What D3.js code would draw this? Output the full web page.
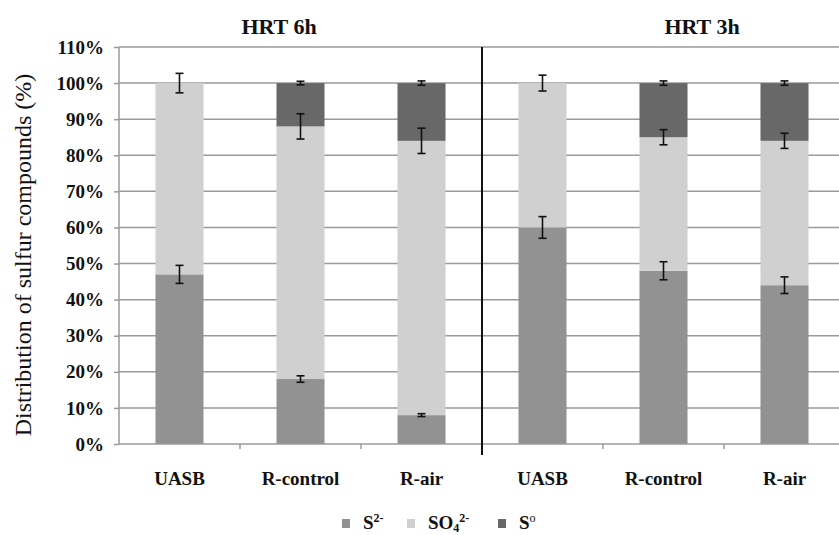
<!DOCTYPE html>
<meta charset="utf-8">
<script src="https://d3js.org/d3.v7.min.js"></script>
<style>
  body { margin: 0; background: #fff; }
</style>
<div id="chart"></div>
<script>

// categories, two HRT groups of three reactors
var categories = ["UASB", "R-control", "R-air", "UASB", "R-control", "R-air"];
var groups = ["HRT 6h", "HRT 3h"];
var keys = ["6h-UASB", "6h-R-control", "6h-R-air", "3h-UASB", "3h-R-control", "3h-R-air"];

// percent of sulfur compounds
var sulfide   = [47, 18, 8, 60, 48, 44];
var sulfate   = [53, 70, 76, 40, 37, 40];
var elemental = [0, 12, 16, 0, 15, 16];

// error bars (+/-) at the top of each segment
var sulfideErr   = [2.5, 0.9, 0.4, 3.0, 2.5, 2.3];
var sulfateErr   = [2.7, 3.5, 3.5, 2.2, 2.1, 2.1];
var elementalErr = [0, 0.5, 0.6, 0, 0.6, 0.6];

var yTicks = [0, 10, 20, 30, 40, 50, 60, 70, 80, 90, 100, 110];

var serif = "Liberation Serif";
var width = 839, height = 535;
var margin = {top: 47, left: 119, bottom: 91};

var svg = d3.select("#chart").append("svg")
  .attr("width", width)
  .attr("height", height);

var x = d3.scaleBand()
  .domain(keys)
  .range([margin.left, 845])
  .paddingInner(0.603)
  .paddingOuter(0.3015);

var y = d3.scaleLinear()
  .domain([0, 110])
  .range([height - margin.bottom, margin.top]);

// gridlines
svg.append("g")
  .selectAll("line")
  .data(yTicks.slice(1))
  .enter().append("line")
    .attr("x1", margin.left)
    .attr("x2", 845)
    .attr("y1", function(d) { return y(d); })
    .attr("y2", function(d) { return y(d); })
    .attr("stroke", "#9a9a9a")
    .attr("stroke-width", 1.5);

// stacked bars
var series = [
  {name: "S2-", vals: sulfide, err: sulfideErr, color: "#929292"},
  {name: "SO42-", vals: sulfate, err: sulfateErr, color: "#d0d0d0"},
  {name: "S0", vals: elemental, err: elementalErr, color: "#686868"}
];

var rows = keys.map(function(k, i) {
  var base = 0;
  return series.map(function(s) {
    var r = {key: k, y0: base, y1: base + s.vals[i], err: s.err[i], color: s.color};
    base += s.vals[i];
    return r;
  });
});

var segs = [].concat.apply([], rows);

svg.append("g")
  .selectAll("rect")
  .data(segs.filter(function(d) { return d.y1 > d.y0; }))
  .enter().append("rect")
    .attr("x", function(d) { return x(d.key); })
    .attr("width", x.bandwidth())
    .attr("y", function(d) { return y(d.y1); })
    .attr("height", function(d) { return y(d.y0) - y(d.y1); })
    .attr("fill", function(d) { return d.color; });

// error bars
var eb = svg.append("g")
  .selectAll("g")
  .data(segs.filter(function(d) { return d.y1 > d.y0 && d.err > 0; }))
  .enter().append("g")
    .attr("stroke", "#111")
    .attr("stroke-width", 1.6);

eb.append("line")
  .attr("x1", function(d) { return x(d.key) + x.bandwidth() / 2; })
  .attr("x2", function(d) { return x(d.key) + x.bandwidth() / 2; })
  .attr("y1", function(d) { return y(d.y1 + d.err); })
  .attr("y2", function(d) { return y(d.y1 - d.err); });

[1, -1].forEach(function(sg) {
  eb.append("line")
    .attr("x1", function(d) { return x(d.key) + x.bandwidth() / 2 - 4; })
    .attr("x2", function(d) { return x(d.key) + x.bandwidth() / 2 + 4; })
    .attr("y1", function(d) { return y(d.y1 + sg * d.err); })
    .attr("y2", function(d) { return y(d.y1 + sg * d.err); });
});

// y axis
var yAxis = svg.append("g")
  .attr("transform", "translate(" + margin.left + ",0)")
  .call(d3.axisLeft(y).tickValues(yTicks).tickSize(5).tickPadding(10)
    .tickFormat(function(d) { return d + "%"; }));
yAxis.selectAll("line, path").attr("stroke", "#9a9a9a").attr("stroke-width", 1.5);
yAxis.select(".domain").attr("d", "M0," + y(110) + "V" + y(0));
yAxis.selectAll("text")
  .attr("fill", "#111")
  .attr("font-family", serif)
  .attr("font-size", 19)
  .attr("font-weight", "bold");

// x axis
var xAxis = svg.append("g")
  .attr("transform", "translate(0," + y(0) + ")")
  .call(d3.axisBottom(x).tickSize(0).tickPadding(28)
    .tickFormat(function(d, i) { return categories[i]; }));
xAxis.select(".domain").attr("d", "M" + margin.left + ",0H845")
  .attr("stroke", "#9a9a9a").attr("stroke-width", 1.5);
xAxis.selectAll("text")
  .attr("fill", "#111")
  .attr("font-family", serif)
  .attr("font-size", 19)
  .attr("font-weight", "bold");

// category boundary ticks
var step = x.step();
svg.append("g")
  .selectAll("line")
  .data(keys.slice(1))
  .enter().append("line")
    .attr("x1", function(d) { return x(d) - step * x.paddingInner() / 2; })
    .attr("x2", function(d) { return x(d) - step * x.paddingInner() / 2; })
    .attr("y1", y(0))
    .attr("y2", y(0) + 5)
    .attr("stroke", "#9a9a9a")
    .attr("stroke-width", 1.5);

// divider between HRT groups
var divX = x(keys[3]) - step * x.paddingInner() / 2;
svg.append("line")
  .attr("x1", divX).attr("x2", divX)
  .attr("y1", y(110)).attr("y2", y(0) + 11)
  .attr("stroke", "#111")
  .attr("stroke-width", 2);

// group titles
svg.selectAll(".grp")
  .data(groups)
  .enter().append("text")
    .attr("x", function(d, i) { return i === 0 ? 279 : 702; })
    .attr("y", 34)
    .attr("text-anchor", "middle")
    .attr("font-family", serif)
    .attr("font-size", 22)
    .attr("font-weight", "bold")
    .attr("fill", "#111")
    .text(function(d) { return d; });

// y title
svg.append("text")
  .attr("transform", "translate(31,255) rotate(-90)")
  .attr("text-anchor", "middle")
  .attr("font-family", serif)
  .attr("font-size", 24)
  .attr("fill", "#111")
  .text("Distribution of sulfur compounds (%)");

// legend
var legend = [
  {x: 342, color: "#929292", main: "S", sup: "2-", sub: ""},
  {x: 407, color: "#d0d0d0", main: "SO", sub: "4", sup: "2-"},
  {x: 498, color: "#686868", main: "S", sup: "o", sub: ""}
];
var lg = svg.selectAll(".lg")
  .data(legend)
  .enter().append("g");
lg.append("rect")
  .attr("x", function(d) { return d.x; })
  .attr("y", 519)
  .attr("width", 8)
  .attr("height", 9)
  .attr("fill", function(d) { return d.color; });
var lt = lg.append("text")
  .attr("x", function(d) { return d.x + 21; })
  .attr("y", 529)
  .attr("font-family", serif)
  .attr("font-size", 19)
  .attr("font-weight", "bold")
  .attr("fill", "#111");
lt.append("tspan").text(function(d) { return d.main; });
lt.filter(function(d) { return d.sub; }).append("tspan")
  .attr("dy", 3).attr("font-size", 12)
  .text(function(d) { return d.sub; });
lt.append("tspan")
  .attr("dy", function(d) { return d.sub ? -10 : -7; })
  .attr("font-size", 12)
  .attr("font-weight", function(d) { return d.sup === "o" ? "normal" : "bold"; })
  .text(function(d) { return d.sup; });

</script>
